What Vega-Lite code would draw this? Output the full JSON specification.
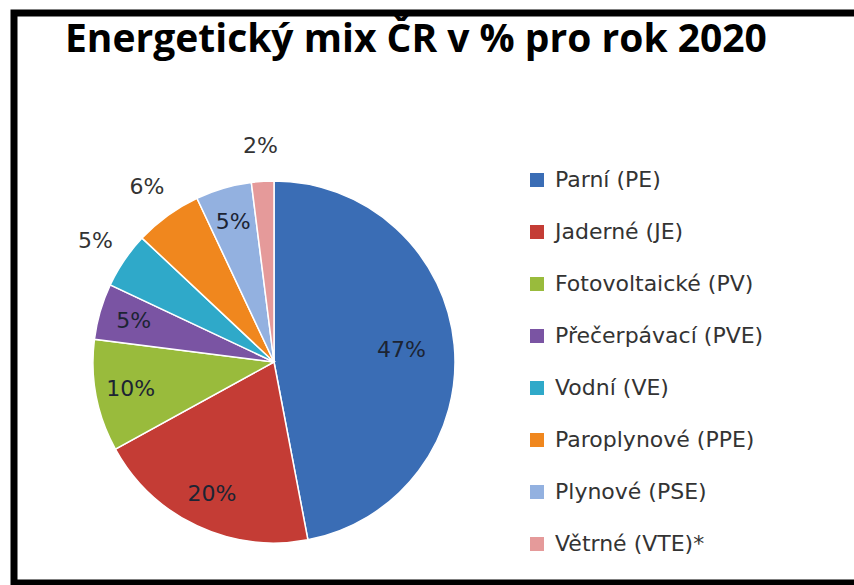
{
  "$schema": "https://vega.github.io/schema/vega-lite/v6.json",
  "width": 840,
  "height": 570,
  "autosize": {"type": "none"},
  "padding": {"left": 14, "top": 13, "right": 0, "bottom": 2},
  "background": "white",
  "config": {
    "view": {"stroke": null},
    "font": "Open Sans"
  },
  "title": {
    "text": "Energetický mix ČR v % pro rok 2020",
    "anchor": "start",
    "orient": "top",
    "frame": "group",
    "font": "Open Sans",
    "fontSize": 39,
    "fontWeight": "bold",
    "color": "black",
    "dx": 51,
    "offset": -52
  },
  "datasets": {
    "mix": [
      {"n": 1, "zdroj": "Parní (PE)", "share": 0.47},
      {"n": 2, "zdroj": "Jaderné (JE)", "share": 0.20},
      {"n": 3, "zdroj": "Fotovoltaické (PV)", "share": 0.10},
      {"n": 4, "zdroj": "Přečerpávací (PVE)", "share": 0.05},
      {"n": 5, "zdroj": "Vodní (VE)", "share": 0.05},
      {"n": 6, "zdroj": "Paroplynové (PPE)", "share": 0.06},
      {"n": 7, "zdroj": "Plynové (PSE)", "share": 0.05},
      {"n": 8, "zdroj": "Větrné (VTE)*", "share": 0.02}
    ],
    "frame": [{"id": 1}]
  },
  "data": {"name": "mix"},
  "layer": [
    {
      "data": {"name": "frame"},
      "mark": {"type": "rect", "fill": null, "stroke": "black", "strokeWidth": 7, "strokeDash": [840, 570, 1410, 0], "strokeCap": "square"},
      "encoding": {}
    },
    {
      "mark": {"type": "arc", "outerRadius": 181, "x": 260, "y": 349, "stroke": "white", "strokeWidth": 1.5},
      "encoding": {
        "theta": {"field": "share", "type": "quantitative", "stack": true},
        "order": {"field": "n", "type": "quantitative"},
        "color": {
          "field": "zdroj",
          "type": "nominal",
          "sort": null,
          "scale": {
            "domain": ["Parní (PE)", "Jaderné (JE)", "Fotovoltaické (PV)", "Přečerpávací (PVE)", "Vodní (VE)", "Paroplynové (PPE)", "Plynové (PSE)", "Větrné (VTE)*"],
            "range": ["#3a6db5", "#c43c35", "#99bb3c", "#7a54a3", "#2fa9c9", "#f0871e", "#93b1e0", "#e59a9a"]
          },
          "legend": {
            "orient": "none",
            "legendX": 512,
            "legendY": 156,
            "title": null,
            "symbolType": "square",
            "symbolSize": 196,
            "symbolStrokeWidth": 0,
            "symbolOpacity": 1,
            "labelFont": "DejaVu Sans",
            "labelFontSize": 22,
            "labelColor": "#333333",
            "labelOffset": 7,
            "rowPadding": 30,
            "padding": 0,
            "labelLimit": 400
          }
        }
      }
    },
    {
      "mark": {"type": "text", "radius": 128, "x": 260, "y": 349, "fontSize": 22, "color": "#1c2433", "font": "DejaVu Sans"},
      "encoding": {
        "theta": {"field": "share", "type": "quantitative", "stack": true},
        "order": {"field": "n", "type": "quantitative"},
        "text": {"field": "share", "type": "quantitative", "format": ".0%"},
        "opacity": {"condition": {"test": "datum.n == 1", "value": 1}, "value": 0}
      }
    },
    {
      "mark": {"type": "text", "radius": 146, "x": 260, "y": 349, "fontSize": 22, "color": "#1c2433", "font": "DejaVu Sans"},
      "encoding": {
        "theta": {"field": "share", "type": "quantitative", "stack": true},
        "order": {"field": "n", "type": "quantitative"},
        "text": {"field": "share", "type": "quantitative", "format": ".0%"},
        "opacity": {"condition": {"test": "datum.n == 2 || datum.n == 3 || datum.n == 4 || datum.n == 7", "value": 1}, "value": 0}
      }
    },
    {
      "mark": {"type": "text", "radius": 216, "x": 260, "y": 349, "fontSize": 22, "color": "#333333", "font": "DejaVu Sans"},
      "encoding": {
        "theta": {"field": "share", "type": "quantitative", "stack": true},
        "order": {"field": "n", "type": "quantitative"},
        "text": {"field": "share", "type": "quantitative", "format": ".0%"},
        "opacity": {"condition": {"test": "datum.n == 5 || datum.n == 6 || datum.n == 8", "value": 1}, "value": 0}
      }
    }
  ]
}
